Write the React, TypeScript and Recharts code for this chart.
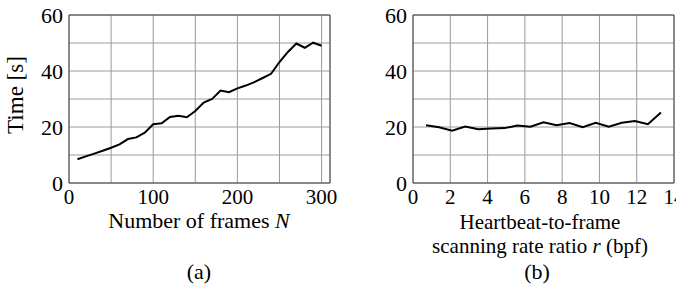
import { LineChart, Line, XAxis, YAxis, CartesianGrid, ReferenceLine } from 'recharts'

const framesN = [10, 20, 30, 40, 50, 60, 70, 80, 90, 100, 110, 120, 130, 140, 150, 160, 170, 180, 190, 200, 210, 220, 230, 240, 250, 260, 270, 280, 290, 300]
const timeByFrames = [8.5, 9.5, 10.5, 11.5, 12.6, 13.8, 15.7, 16.3, 18, 21, 21.3, 23.6, 24, 23.5, 25.7, 28.7, 30, 33, 32.4, 33.8, 34.8, 36, 37.5, 39, 43.2, 46.8, 49.8, 48.3, 50.1, 49]

const ratioR = [0.7, 1.4, 2.1, 2.8, 3.5, 4.2, 4.9, 5.6, 6.3, 7.0, 7.7, 8.4, 9.1, 9.8, 10.5, 11.2, 11.9, 12.6, 13.3]
const timeByRatio = [20.6, 19.9, 18.7, 20.2, 19.2, 19.5, 19.6, 20.5, 20.1, 21.7, 20.6, 21.4, 19.9, 21.5, 20.1, 21.5, 22.1, 21, 25.2]

const yTicks = [0, 10, 20, 30, 40, 50, 60]
const xTicksA = [0, 50, 100, 150, 200, 250, 300]
const xTicksB = [0, 2, 4, 6, 8, 10, 12, 14]

const dataA = framesN.map((n, i) => ({ n, t: timeByFrames[i] }))
const dataB = ratioR.map((r, i) => ({ r, t: timeByRatio[i] }))

const font = 'Liberation Serif, Tinos, DejaVu Serif, serif'
const tick = { fill: '#000', fontSize: 21, fontFamily: font }
const yTick = { fill: '#000', fontSize: 22, fontFamily: font }
const gridColor = '#9a9a9a'
const frameColor = '#444'

const textStyle: React.CSSProperties = {
  position: 'absolute',
  fontFamily: font,
  fontSize: 22,
  color: '#000',
  textAlign: 'center',
  whiteSpace: 'nowrap',
}

export default function App() {
  return (
    <div style={{ position: 'absolute', left: 0, top: 0, width: 676, height: 291, background: '#fff', overflow: 'hidden', fontFamily: font }}>
      <div style={{ position: 'absolute', left: 0, top: 0 }}>
        <LineChart width={340} height={291} data={dataA} margin={{ top: 15, right: 10, bottom: 0, left: 0 }}>
          <CartesianGrid stroke={gridColor} />
          <XAxis dataKey="n" type="number" domain={[0, 310]} ticks={xTicksA} tickFormatter={(v) => (v % 100 === 0 ? String(v) : '')}
            height={108} axisLine={false} tickLine={false} tickSize={4} tickMargin={2} tick={tick} interval={0} />
          <YAxis type="number" domain={[0, 60]} ticks={yTicks} tickFormatter={(v) => (v % 20 === 0 ? String(v) : '')}
            width={69} axisLine={false} tickLine={false} tickSize={4} tickMargin={2} tick={yTick} interval={0} />
          <ReferenceLine x={0} stroke={frameColor} />
          <ReferenceLine x={310} stroke={frameColor} />
          <ReferenceLine y={0} stroke={frameColor} />
          <ReferenceLine y={60} stroke={frameColor} />
          <Line type="linear" dataKey="t" stroke="#000" strokeWidth={2} dot={false} isAnimationActive={false} />
        </LineChart>
      </div>
      <div style={{ position: 'absolute', left: 340, top: 0 }}>
        <LineChart width={336} height={291} data={dataB} margin={{ top: 15, right: 2, bottom: 0, left: 0 }}>
          <CartesianGrid stroke={gridColor} />
          <XAxis dataKey="r" type="number" domain={[0, 14]} ticks={xTicksB}
            height={108} axisLine={false} tickLine={false} tickSize={4} tickMargin={2} tick={tick} interval={0} />
          <YAxis type="number" domain={[0, 60]} ticks={yTicks} tickFormatter={(v) => (v % 20 === 0 ? String(v) : '')}
            width={73} axisLine={false} tickLine={false} tickSize={4} tickMargin={2} tick={yTick} interval={0} />
          <ReferenceLine x={0} stroke={frameColor} />
          <ReferenceLine x={14} stroke={frameColor} />
          <ReferenceLine y={0} stroke={frameColor} />
          <ReferenceLine y={60} stroke={frameColor} />
          <Line type="linear" dataKey="t" stroke="#000" strokeWidth={2} dot={false} isAnimationActive={false} />
        </LineChart>
      </div>

      <div style={{ ...textStyle, left: 16 - 60, top: 95 - 12, width: 120, fontSize: 23, lineHeight: '24px', transform: 'rotate(-90deg)' }}>Time [s]</div>
      <div style={{ ...textStyle, left: 199 - 120, top: 209, width: 240, lineHeight: '24px' }}>
        Number of frames <i>N</i>
      </div>
      <div style={{ ...textStyle, left: 540 - 140, top: 210, width: 280, fontSize: 21, lineHeight: '24px' }}>
        Heartbeat-to-frame<br />scanning rate ratio <i>r</i> (bpf)
      </div>
      <div style={{ ...textStyle, left: 199 - 30, top: 260, width: 60, lineHeight: '24px' }}>(a)</div>
      <div style={{ ...textStyle, left: 537 - 30, top: 260, width: 60, lineHeight: '24px' }}>(b)</div>
    </div>
  )
}
